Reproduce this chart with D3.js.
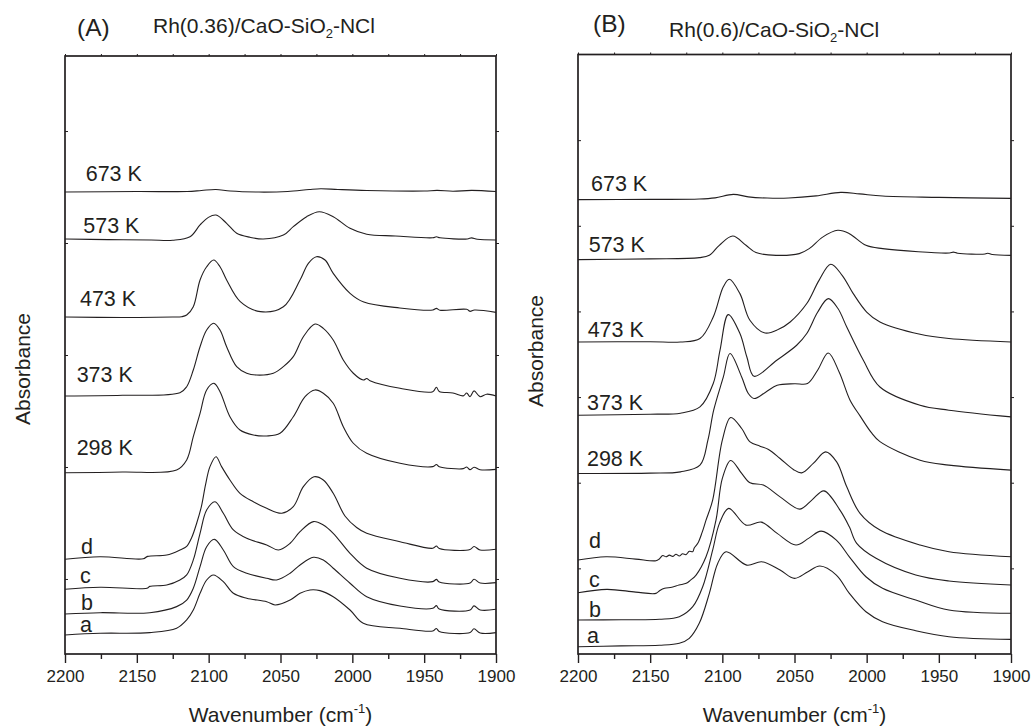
<!DOCTYPE html>
<html><head><meta charset="utf-8">
<script src="https://cdn.jsdelivr.net/npm/d3@7"></script>
<style>
body{margin:0;background:#fff}
text{font-family:Arial,"Liberation Sans",Helvetica,sans-serif;fill:#231f20}
</style>
</head><body><svg id="chart" width="1032" height="727"></svg>
<script>
// ---------------- DATA ----------------
const wnMajorTicks = [2200,2150,2100,2050,2000,1950,1900];
const wnMinorTicks = [2175,2125,2075,2025,1975,1925];
const wnAllTicks = [2200,2175,2150,2125,2100,2075,2050,2025,2000,1975,1950,1925,1900];

// Panel A: Rh(0.36)/CaO-SiO2-NCl  [wavenumber, absorbance (offset a.u.)]
const A_673 = [[2200,3.455],[2150,3.460],[2115,3.460],[2105,3.469],[2095,3.478],[2085,3.464],[2065,3.455],[2045,3.460],[2030,3.478],[2022,3.485],[2010,3.478],[1990,3.469],[1950,3.464],[1941,3.470],[1930,3.462],[1917,3.470],[1900,3.460]];
const A_573 = [[2200,3.036],[2170,3.030],[2140,3.027],[2125,3.025],[2113,3.056],[2106,3.161],[2100.2,3.229],[2094.9,3.250],[2087.5,3.176],[2080.5,3.087],[2071.2,3.051],[2062,3.036],[2048,3.071],[2041.1,3.146],[2031.8,3.235],[2023,3.279],[2013.3,3.235],[2001.6,3.131],[1990,3.078],[1970,3.063],[1944,3.047],[1941.5,3.056],[1939,3.047],[1920,3.036],[1917,3.046],[1913,3.033],[1900,3.027]];
const A_473 = [[2200,2.339],[2160,2.335],[2125,2.339],[2118.8,2.342],[2115.3,2.357],[2110.7,2.431],[2106,2.670],[2101.4,2.788],[2096.5,2.848],[2092.1,2.788],[2087.5,2.670],[2078,2.476],[2064,2.387],[2048,2.431],[2036.4,2.670],[2030.6,2.819],[2025,2.878],[2019,2.848],[2013.3,2.729],[2001.6,2.551],[1992,2.473],[1967,2.420],[1944,2.402],[1941.5,2.416],[1939,2.400],[1920.4,2.408],[1918,2.390],[1915,2.402],[1900,2.381]];
const A_373 = [[2200,1.634],[2160,1.640],[2120,1.663],[2115.3,1.717],[2110.7,1.866],[2106,2.074],[2101.4,2.223],[2096.5,2.283],[2092.1,2.223],[2087.5,2.074],[2080.5,1.896],[2073.5,1.837],[2066.6,1.821],[2055,1.837],[2048,1.896],[2041.1,1.985],[2034.1,2.163],[2026,2.277],[2020.2,2.238],[2013.3,2.134],[2006.3,1.955],[1999.3,1.837],[1992.4,1.777],[1990,1.790],[1987.7,1.771],[1966.8,1.703],[1944,1.672],[1941.5,1.712],[1939.5,1.674],[1930,1.661],[1922.8,1.635],[1920.4,1.660],[1918.1,1.628],[1915.3,1.680],[1911.1,1.628],[1906.5,1.650],[1900,1.634]];
const A_298 = [[2200,0.949],[2160,0.955],[2122.3,0.973],[2115.3,1.063],[2110.7,1.271],[2106,1.479],[2101.4,1.688],[2096.3,1.747],[2092.1,1.672],[2085.2,1.449],[2078.2,1.330],[2068.9,1.286],[2059.6,1.277],[2050.3,1.301],[2041.1,1.449],[2032.9,1.628],[2026,1.688],[2020.2,1.658],[2013.3,1.569],[2006.3,1.360],[1999.3,1.212],[1990,1.122],[1966.8,1.033],[1944,1.003],[1941.5,1.022],[1939.5,1.003],[1922.8,0.985],[1920.4,1.000],[1918.1,0.976],[1915.3,0.998],[1911.1,0.976],[1900,0.979]];
const A_d = [[2200,0.176],[2175.6,0.199],[2145.5,0.180],[2142.5,0.202],[2129.2,0.214],[2120,0.259],[2115.3,0.292],[2111.8,0.370],[2108.3,0.500],[2105,0.650],[2102.2,0.840],[2099.1,1.003],[2094.9,1.092],[2091,1.003],[2085.2,0.884],[2078.2,0.765],[2068.9,0.690],[2059.6,0.631],[2049.1,0.587],[2041.1,0.646],[2034.1,0.824],[2026.7,0.913],[2020.2,0.884],[2013.3,0.765],[2005,0.560],[1997,0.460],[1990,0.408],[1966.8,0.333],[1944,0.274],[1941.5,0.294],[1939.5,0.272],[1918.1,0.263],[1915.3,0.290],[1911.1,0.259],[1900,0.265]];
const A_c = [[2200,-0.092],[2175.6,-0.074],[2143,-0.083],[2141,-0.066],[2129.2,-0.054],[2120,-0.009],[2115.3,0.036],[2110.7,0.170],[2106,0.408],[2101.4,0.616],[2095.6,0.690],[2089.8,0.587],[2082.8,0.438],[2073.5,0.363],[2059.6,0.304],[2051.4,0.259],[2043.3,0.319],[2036.4,0.422],[2027.1,0.512],[2020.2,0.482],[2013.3,0.408],[2001.6,0.229],[1990,0.096],[1966.8,0.006],[1944,-0.024],[1941.5,-0.004],[1939.5,-0.027],[1918,-0.036],[1915.3,-0.002],[1911,-0.036],[1900,-0.033]];
const A_b = [[2200,-0.313],[2175.6,-0.301],[2141,-0.301],[2122.3,-0.247],[2115.3,-0.188],[2110.7,-0.083],[2106,0.110],[2101.4,0.288],[2096,0.354],[2089.8,0.259],[2082.8,0.110],[2073.5,0.051],[2059.6,0.006],[2052.7,-0.009],[2043.3,0.051],[2036.4,0.125],[2027.1,0.194],[2020.2,0.170],[2013.3,0.096],[2001.6,-0.038],[1990,-0.158],[1966.8,-0.241],[1944,-0.262],[1941.5,-0.238],[1939.5,-0.268],[1918,-0.277],[1915.3,-0.240],[1911,-0.277],[1900,-0.271]];
const A_a = [[2200,-0.500],[2175.6,-0.485],[2141,-0.479],[2122.3,-0.440],[2115.3,-0.366],[2110.7,-0.277],[2106,-0.128],[2101.4,-0.009],[2096.7,0.036],[2089.8,-0.024],[2082.8,-0.128],[2073.5,-0.172],[2059.6,-0.203],[2053.8,-0.232],[2043.3,-0.188],[2036.4,-0.128],[2029.5,-0.098],[2022.5,-0.104],[2013.3,-0.158],[2001.6,-0.277],[1992.4,-0.396],[1966.8,-0.440],[1944,-0.464],[1941.5,-0.442],[1939.5,-0.469],[1918,-0.478],[1915.3,-0.445],[1911,-0.482],[1900,-0.479]];

// Panel B: Rh(0.6)/CaO-SiO2-NCl
const B_673 = [[2200,5.305],[2150,5.308],[2116,5.312],[2105,5.326],[2092.4,5.367],[2082,5.338],[2069,5.324],[2054,5.324],[2035,5.349],[2018,5.390],[2005,5.373],[1989,5.347],[1950,5.332],[1900,5.320]];
const B_573 = [[2200,4.605],[2150,4.614],[2116,4.628],[2109,4.655],[2102.1,4.772],[2092.8,4.880],[2083.6,4.772],[2076.7,4.687],[2062.8,4.655],[2046.7,4.675],[2039.8,4.733],[2030.5,4.868],[2020,4.947],[2012,4.908],[2000.5,4.772],[1988.9,4.733],[1942.7,4.682],[1940,4.692],[1937,4.680],[1918,4.670],[1916,4.680],[1913,4.664],[1900,4.655]];
const B_473 = [[2200,3.643],[2150,3.646],[2129,3.643],[2115.5,3.683],[2106.3,3.935],[2099.4,4.285],[2095.2,4.375],[2087.8,4.208],[2080.9,3.897],[2070.4,3.748],[2061,3.792],[2053,3.877],[2041.5,4.092],[2033,4.363],[2024.9,4.550],[2017,4.422],[2009.3,4.208],[2000,3.993],[1990.8,3.877],[1963,3.733],[1943,3.683],[1900,3.643]];
const B_373 = [[2200,2.788],[2150,2.800],[2129,2.812],[2115.5,2.885],[2106.3,3.158],[2101.6,3.547],[2095.9,3.963],[2087.8,3.742],[2083,3.468],[2078,3.243],[2062.3,3.430],[2048.5,3.605],[2041.5,3.742],[2034,3.990],[2026.6,4.150],[2020,4.037],[2013.8,3.818],[2002.3,3.430],[1990.8,3.118],[1963,2.905],[1943,2.847],[1900,2.769]];
const B_298 = [[2200,2.108],[2150,2.112],[2129,2.127],[2115.5,2.205],[2110,2.497],[2106,2.847],[2099.3,3.235],[2094.7,3.508],[2086.6,3.235],[2082,3.042],[2078,2.983],[2070,3.057],[2062,3.138],[2050,3.156],[2041,3.158],[2034,3.313],[2026.6,3.515],[2019,3.290],[2011.5,2.963],[2004.6,2.780],[1997,2.590],[1990.8,2.480],[1963,2.263],[1943,2.205],[1900,2.147]];
const B_d = [[2200,1.097],[2180.6,1.135],[2160,1.108],[2146,1.089],[2143.7,1.110],[2141.3,1.150],[2139,1.135],[2136.7,1.155],[2134.4,1.140],[2132.1,1.165],[2129.8,1.145],[2127.5,1.170],[2125.2,1.160],[2122.9,1.200],[2120.5,1.195],[2119.4,1.240],[2117,1.292],[2114,1.420],[2111.3,1.563],[2106.7,1.797],[2100,2.497],[2094.2,2.762],[2086.6,2.633],[2080.8,2.477],[2073.9,2.427],[2068,2.388],[2060,2.283],[2050.8,2.155],[2045,2.115],[2037,2.225],[2028.4,2.360],[2020.8,2.243],[2013.8,1.952],[2004.6,1.642],[1990.8,1.447],[1963,1.272],[1943,1.194],[1900,1.135]];
const B_c = [[2200,0.715],[2180,0.755],[2160,0.723],[2146,0.708],[2143,0.745],[2140,0.767],[2135,0.780],[2130,0.805],[2125,0.825],[2122,0.863],[2118.2,0.922],[2111.3,1.135],[2104.4,1.563],[2100,2.050],[2094.2,2.260],[2086.6,2.108],[2080.8,1.999],[2071.6,1.972],[2060,1.835],[2046.2,1.692],[2038,1.797],[2029.6,1.905],[2018.5,1.680],[2012,1.485],[2006.9,1.292],[1993.5,1.117],[1966,0.922],[1943,0.852],[1900,0.805]];
const B_b = [[2200,0.397],[2170,0.400],[2143.6,0.405],[2129.8,0.435],[2120.5,0.552],[2113.6,0.785],[2106.7,1.213],[2102,1.525],[2095.6,1.700],[2083.6,1.505],[2073,1.540],[2062,1.408],[2049,1.272],[2040,1.353],[2031.6,1.435],[2021,1.330],[2012,1.135],[2000.5,0.902],[1989,0.767],[1966,0.630],[1943,0.513],[1900,0.475]];
const B_a = [[2200,0.085],[2170,0.095],[2143.6,0.102],[2129.8,0.125],[2122.9,0.183],[2116,0.358],[2109,0.708],[2103.2,1.058],[2097.4,1.194],[2083.1,1.038],[2072.7,1.077],[2060,0.980],[2050,0.883],[2041,0.957],[2032.4,1.027],[2021,0.922],[2012,0.708],[2000.5,0.493],[1989,0.377],[1966,0.272],[1943,0.202],[1900,0.171]];

// curve labels: [text, wavenumber, value]
const labelsA = [["673 K",2185.6,3.554],["573 K",2187.3,3.092],["473 K",2189.6,2.438],["373 K",2191.9,1.762],["298 K",2191.9,1.107],["d",2188.9,0.223],["c",2189.6,-0.038],["b",2188.9,-0.277],["a",2189.6,-0.471]];
const labelsB = [["673 K",2191.0,5.405],["573 K",2192.6,4.694],["473 K",2193.3,3.702],["373 K",2193.8,2.847],["298 K",2193.8,2.197],["d",2192.4,1.240],["c",2192.4,0.778],["b",2192.4,0.428],["a",2193.8,0.125]];

const seriesA = [A_673,A_573,A_473,A_373,A_298,A_d,A_c,A_b,A_a];
const seriesB = [B_673,B_573,B_473,B_373,B_298,B_d,B_c,B_b,B_a];

// ---------------- LAYOUT ----------------
const panels = [
  {series:seriesA, labels:labelsA, left:65, right:496, top:56, bottom:654, yDomain:[-0.67,4.67], yTicks:[0,1,2,3,4],
   tag:"(A)", tagX:77, tagY:36, title:"Rh(0.36)/CaO-SiO", titleX:153, titleY:32.5, ylabX:30, ylabY:369},
  {series:seriesB, labels:labelsB, left:578, right:1011, top:54.5, bottom:654, yDomain:[0,7], yTicks:[1,2,3,4,5,6],
   tag:"(B)", tagX:593, tagY:32.3, title:"Rh(0.6)/CaO-SiO", titleX:669, titleY:36.7, ylabX:543, ylabY:351}
];

const svg = d3.select("#chart");
const ink = "#231f20";

panels.forEach(p => {
  const x = d3.scaleLinear().domain([2200,1900]).range([p.left,p.right]);
  const y = d3.scaleLinear().domain(p.yDomain).range([p.bottom,p.top]);
  const g = svg.append("g");

  const line = d3.line().x(d=>x(d[0])).y(d=>y(d[1])).curve(d3.curveCatmullRom.alpha(0.5));
  g.selectAll("path.spec").data(p.series).enter().append("path")
    .attr("class","spec").attr("d",line).attr("fill","none")
    .attr("stroke",ink).attr("stroke-width",1.1).attr("stroke-linejoin","round");

  g.selectAll("text.lab").data(p.labels).enter().append("text")
    .attr("class","lab").attr("x",d=>x(d[1])).attr("y",d=>y(d[2]))
    .attr("font-size","21.5px").text(d=>d[0]);

  const axB = g.append("g").attr("transform",`translate(0,${p.bottom})`)
    .call(d3.axisBottom(x).tickValues(wnMajorTicks).tickSize(9).tickSizeOuter(0).tickPadding(7).tickFormat(d3.format("d")));
  axB.select(".domain").remove();
  axB.selectAll("line").attr("stroke",ink).attr("stroke-width",1.4);
  axB.selectAll("text").attr("font-size","17px").attr("font-family","Arial, 'Liberation Sans', sans-serif").attr("fill",ink);
  const axBm = g.append("g").attr("transform",`translate(0,${p.bottom})`)
    .call(d3.axisBottom(x).tickValues(wnMinorTicks).tickSize(5).tickSizeOuter(0).tickFormat(""));
  axBm.select(".domain").remove();
  axBm.selectAll("line").attr("stroke",ink).attr("stroke-width",1.4);

  const axT = g.append("g").attr("transform",`translate(0,${p.top})`)
    .call(d3.axisTop(x).tickValues(wnAllTicks).tickSize(2).tickSizeOuter(0).tickFormat(""));
  axT.select(".domain").remove();
  axT.selectAll("line").attr("stroke",ink).attr("stroke-width",1);

  const axL = g.append("g").attr("transform",`translate(${p.left},0)`)
    .call(d3.axisRight(y).tickValues(p.yTicks).tickSize(3).tickSizeOuter(0).tickFormat(""));
  axL.select(".domain").remove();
  axL.selectAll("line").attr("stroke",ink).attr("stroke-width",1);
  const axR = g.append("g").attr("transform",`translate(${p.right},0)`)
    .call(d3.axisRight(y).tickValues(p.yTicks).tickSize(3).tickSizeOuter(0).tickFormat(""));
  axR.select(".domain").remove();
  axR.selectAll("line").attr("stroke",ink).attr("stroke-width",1);

  g.append("rect").attr("x",p.left).attr("y",p.top).attr("width",p.right-p.left).attr("height",p.bottom-p.top)
    .attr("fill","none").attr("stroke",ink).attr("stroke-width",1.7);

  g.append("text").attr("x",p.tagX).attr("y",p.tagY).attr("font-size","24.5px").text(p.tag);
  const t = g.append("text").attr("x",p.titleX).attr("y",p.titleY).attr("font-size","21px");
  t.append("tspan").text(p.title);
  t.append("tspan").attr("font-size","13px").attr("dy",5).text("2");
  t.append("tspan").attr("dy",-5).text("-NCl");

  const xt = g.append("text").attr("x",(p.left+p.right)/2).attr("y",721.5).attr("text-anchor","middle").attr("font-size","21px");
  xt.append("tspan").text("Wavenumber (cm");
  xt.append("tspan").attr("font-size","13px").attr("dy",-9).text("-1");
  xt.append("tspan").attr("dy",9).text(")");

  g.append("text").attr("transform",`translate(${p.ylabX},${p.ylabY}) rotate(-90)`)
    .attr("text-anchor","middle").attr("font-size","21px").text("Absorbance");
});
</script></body></html>
